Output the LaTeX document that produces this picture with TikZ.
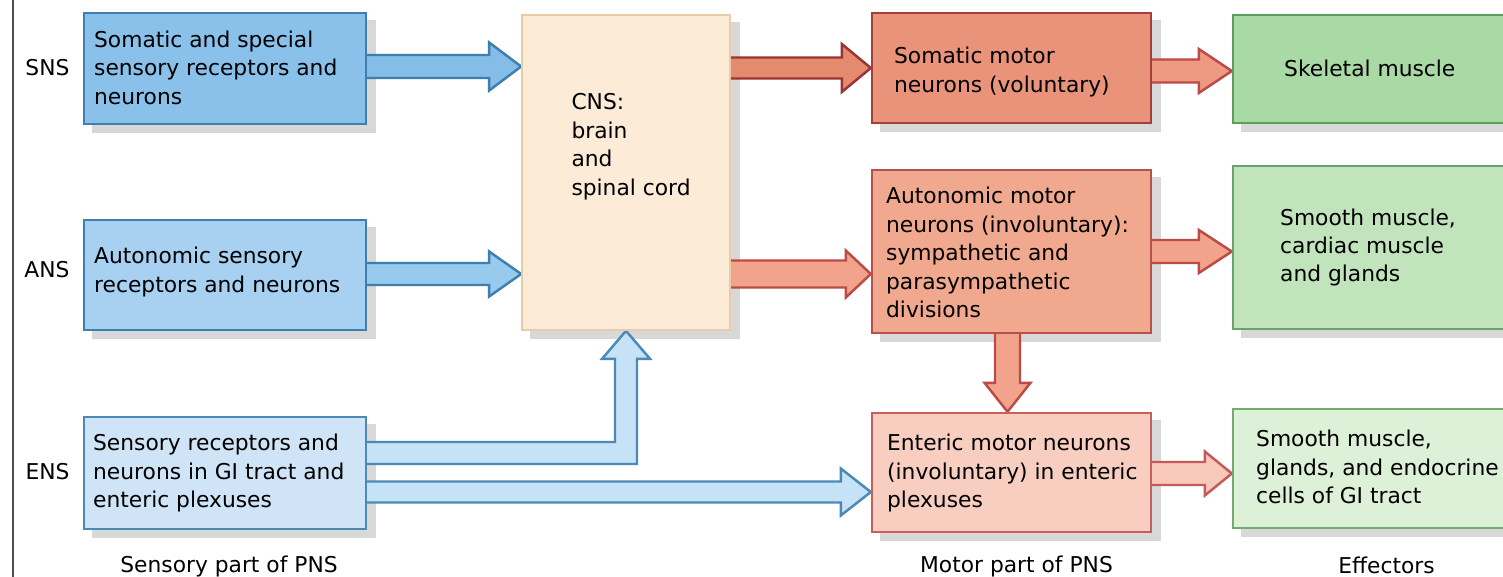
\documentclass[tikz,border=0pt]{standalone}
\usepackage{fontspec}
\setmainfont{DejaVu Sans}
\usetikzlibrary{calc}
\pgfdeclarelayer{shadowl}
\pgfdeclarelayer{arrowl}
\pgfsetlayers{shadowl,arrowl,main}
\definecolor{snsfill}{HTML}{89C1EB}
\definecolor{ansfill}{HTML}{A7D0F1}
\definecolor{ensfill}{HTML}{CFE5F7}
\definecolor{blueline}{HTML}{3F7FAF}
\definecolor{ensline}{HTML}{4A8AB5}
\definecolor{arrSNS}{HTML}{84BDE7}
\definecolor{arrANS}{HTML}{98CAEE}
\definecolor{arrENS}{HTML}{C6E2F7}
\definecolor{cnsfill}{HTML}{FCEBD7}
\definecolor{cnsline}{HTML}{E8CBA8}
\definecolor{somfill}{HTML}{E9937B}
\definecolor{somline}{HTML}{A3403D}
\definecolor{autfill}{HTML}{F0A98F}
\definecolor{autline}{HTML}{B9504C}
\definecolor{entfill}{HTML}{F8CEC1}
\definecolor{entline}{HTML}{C95E5C}
\definecolor{arrCS}{HTML}{E5896F}
\definecolor{arrCSline}{HTML}{9A3434}
\definecolor{arrRed}{HTML}{F2A38B}
\definecolor{arrRedline}{HTML}{BE4A47}
\definecolor{arrSK}{HTML}{EE9A82}
\definecolor{arrEG}{HTML}{F8C9BA}
\definecolor{arrEGline}{HTML}{C65A58}
\definecolor{skelfill}{HTML}{A9D9A4}
\definecolor{skelline}{HTML}{5E9C5E}
\definecolor{smfill}{HTML}{C2E4BC}
\definecolor{smline}{HTML}{69A369}
\definecolor{gifill}{HTML}{DDF0D8}
\definecolor{giline}{HTML}{72AA72}
\definecolor{shadowc}{HTML}{D8D8D8}
\definecolor{frameline}{HTML}{4D4D4D}
\newcommand{\myharrow}[6]{%
  \draw[#1] ($#2+(0,-#4)$) -- ($#3+(-#6,-#4)$) -- ($#3+(-#6,-#5)$) -- #3
    -- ($#3+(-#6,#5)$) -- ($#3+(-#6,#4)$) -- ($#2+(0,#4)$) -- cycle;}
\newcommand{\myvarrow}[6]{%
  \draw[#1] ($#2+(-#4,0)$) -- ($#3+(-#4,-#6)$) -- ($#3+(-#5,-#6)$) -- #3
    -- ($#3+(#5,-#6)$) -- ($#3+(#4,-#6)$) -- ($#2+(#4,0)$) -- cycle;}
\begin{document}
\begin{tikzpicture}[x=0.02cm,y=-0.02cm,
  box/.style={rectangle, draw, line width=1.4pt, inner sep=0},
  txt/.style={font=\fontsize{12.4}{16.2}\selectfont, align=left, inner sep=0, text=black},
  blkarrow/.style={line width=1.4pt, line join=miter},
  bluearrowA/.style={blkarrow, fill=arrSNS, draw=blueline},
  bluearrowB/.style={blkarrow, fill=arrANS, draw=blueline},
  bluearrowC/.style={blkarrow, fill=arrENS, draw=ensline},
  redarrowA/.style={blkarrow, fill=arrCS, draw=arrCSline},
  redarrowB/.style={blkarrow, fill=arrRed, draw=arrRedline},
  redarrowC/.style={blkarrow, fill=arrSK, draw=arrRedline},
  redarrowD/.style={blkarrow, fill=arrEG, draw=arrEGline}]
\useasboundingbox (0,0) rectangle (1503,577);
% boxes
\node[box, fill=snsfill, draw=blueline, minimum width=5.64cm, minimum height=2.22cm] (sns) at (225,68.5) {};
\node[box, fill=ansfill, draw=blueline, minimum width=5.64cm, minimum height=2.2cm] (ans) at (225,275) {};
\node[box, fill=ensfill, draw=ensline, minimum width=5.64cm, minimum height=2.24cm] (ens) at (225,473) {};
\node[box, fill=cnsfill, draw=cnsline, line width=1pt, minimum width=4.16cm, minimum height=6.3cm] (cns) at (626,172.5) {};
\node[box, fill=somfill, draw=somline, minimum width=5.58cm, minimum height=2.2cm] (som) at (1011.5,68) {};
\node[box, fill=autfill, draw=autline, minimum width=5.58cm, minimum height=3.26cm] (aut) at (1011.5,251.5) {};
\node[box, fill=entfill, draw=entline, minimum width=5.58cm, minimum height=2.38cm] (ent) at (1011.5,472.5) {};
\node[box, fill=skelfill, draw=skelline, minimum width=5.74cm, minimum height=2.16cm] (skel) at (1376.5,69) {};
\node[box, fill=smfill, draw=smline, minimum width=5.74cm, minimum height=3.26cm] (smooth) at (1376.5,247.5) {};
\node[box, fill=gifill, draw=giline, minimum width=5.74cm, minimum height=2.38cm] (gi) at (1376.5,468.5) {};
% texts
\node[txt, anchor=west] (snsT) at ($(sns.west)+(11,-1)$) {Somatic and special\\sensory receptors and\\neurons};
\node[txt, anchor=west] (ansT) at ($(ans.west)+(11,-3)$) {Autonomic sensory\\receptors and neurons};
\node[txt, anchor=west] (ensT) at ($(ens.west)+(10,0)$) {Sensory receptors and\\neurons in GI tract and\\enteric plexuses};
\node[txt, anchor=west] (cnsT) at ($(cns.west)+(50,-26)$) {CNS:\\brain\\and\\spinal cord};
\node[txt, anchor=west] (somT) at ($(som.west)+(23,4)$) {Somatic motor\\neurons (voluntary)};
\node[txt, anchor=west] (skelT) at ($(skel.west)+(52,-1)$) {Skeletal muscle};
\node[txt, anchor=west] (autT) at ($(aut.west)+(15,1)$) {Autonomic motor\\neurons (involuntary):\\sympathetic and\\parasympathetic\\divisions};
\node[txt, anchor=west] (smoothT) at ($(smooth.west)+(48,0)$) {Smooth muscle,\\cardiac muscle\\and glands};
\node[txt, anchor=west] (entT) at ($(ent.west)+(16,0.5)$) {Enteric motor neurons\\(involuntary) in enteric\\plexuses};
\node[txt, anchor=west] (giT) at ($(gi.west)+(24,-1.5)$) {Smooth muscle,\\glands, and endocrine\\cells of GI tract};
% side and bottom labels
\node[txt, anchor=east] (lsns) at ($(sns.west)+(-13,-1)$) {SNS};
\node[txt, anchor=east] (lans) at ($(ans.west)+(-13,-5)$) {ANS};
\node[txt, anchor=east] (lens) at ($(ens.west)+(-13,-1)$) {ENS};
\node[txt] (lsens) at ($(ens.south)+(4,36)$) {Sensory part of PNS};
\node[txt] (lmot) at ($(ent.south)+(5,33)$) {Motor part of PNS};
\node[txt] (leff) at ($(gi.south)+(10,36.5)$) {Effectors};
% arrow end points
\coordinate (a1s) at ($(sns.east)+(-6,-2)$);  \coordinate (a1t) at (cns.west |- a1s);
\coordinate (a2s) at ($(ans.east)+(-6,-1)$);  \coordinate (a2t) at (cns.west |- a2s);
\coordinate (a3t) at (som.west);              \coordinate (a3s) at ($(cns.east |- a3t)+(-6,0)$);
\coordinate (a4s) at ($(cns.east |- a2s)+(-6,0)$); \coordinate (a4t) at (aut.west |- a4s);
\coordinate (a5s) at ($(som.east)+(-6,3)$);   \coordinate (a5t) at (skel.west |- a5s);
\coordinate (a6s) at ($(aut.east)+(-6,0)$);   \coordinate (a6t) at (smooth.west |- a6s);
\coordinate (a7s) at ($(aut.south)+(-4,-6)$); \coordinate (a7t) at (a7s |- ent.north);
\coordinate (a8s) at ($(ent.east)+(-6,1)$);   \coordinate (a8t) at (gi.west |- a8s);
\coordinate (a9s) at ($(ens.east)+(-6,-20)$); \coordinate (a9c) at (cns.south |- a9s);
\coordinate (a10s) at ($(ens.east)+(-6,19)$); \coordinate (a10t) at (ent.west |- a10s);
\begin{pgfonlayer}{arrowl}
\myharrow{bluearrowA}{(a1s)}{(a1t)}{11.5}{24}{32}
\myharrow{bluearrowB}{(a2s)}{(a2t)}{11}{22.5}{32}
\myharrow{redarrowA}{(a3s)}{(a3t)}{10.5}{24}{29}
\myharrow{redarrowB}{(a4s)}{(a4t)}{13.5}{23.5}{25}
\myharrow{redarrowC}{(a5s)}{(a5t)}{11.5}{22}{33}
\myharrow{redarrowB}{(a6s)}{(a6t)}{11.5}{21.5}{33}
\myvarrow{redarrowB}{(a7s)}{(a7t)}{12.5}{23}{29}
\myharrow{redarrowD}{(a8s)}{(a8t)}{11.5}{22}{27}
\draw[bluearrowC] ($(a9s)+(0,-11)$) -- ($(a9c)+(-11,-11)$) -- ($(cns.south)+(-11,28)$)
  -- ($(cns.south)+(-24,28)$) -- (cns.south) -- ($(cns.south)+(24,28)$)
  -- ($(cns.south)+(11,28)$) -- ($(a9c)+(11,11)$) -- ($(a9s)+(0,11)$) -- cycle;
\myharrow{bluearrowC}{(a10s)}{(a10t)}{10.5}{23.5}{30}
\end{pgfonlayer}
\begin{pgfonlayer}{shadowl}
\fill[white] (0,0) rectangle (1503,577);
\foreach \b in {sns,ans,ens,cns,som,aut,ent,skel,smooth,gi}{
  \fill[shadowc] ($(\b.north west)+(9,8)$) rectangle ($(\b.south east)+(9,8)$);
}
\draw[frameline, line width=1.7pt] (13,0) -- (13,577);
\end{pgfonlayer}
\end{tikzpicture}
\end{document}
